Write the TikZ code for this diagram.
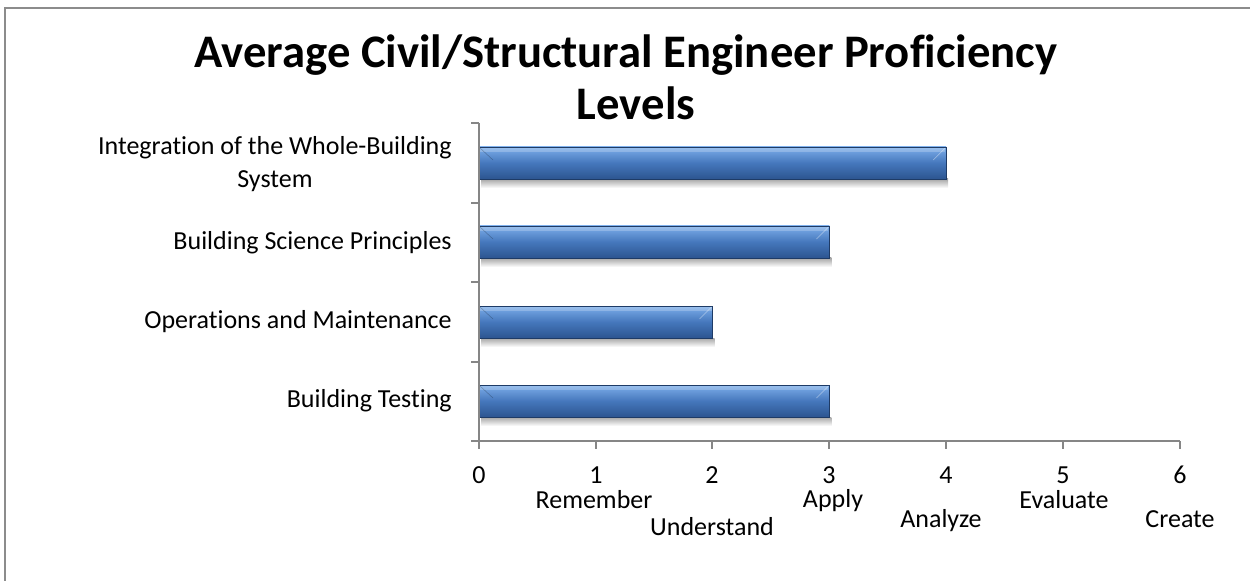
\documentclass[tikz,border=0pt]{standalone}
\usepackage{fontspec}
\setmainfont{Carlito}[Ligatures=NoCommon]
\usetikzlibrary{positioning}

\definecolor{framegray}{HTML}{8C8C8C}
\definecolor{axisgray}{HTML}{868686}
\definecolor{barlight}{HTML}{7DAEEA}
\definecolor{barmid}{HTML}{4577BC}
\definecolor{bardark}{HTML}{2C5590}
\definecolor{baredge}{HTML}{1E3B66}

\tikzset{
  titletext/.style={inner sep=0pt, font=\fontsize{35}{40}\bfseries\selectfont},
  catlabel/.style={anchor=east, inner sep=0pt, align=center, font=\fontsize{19.5}{24.8}\selectfont},
  ticklabel/.style={inner sep=0pt, font=\fontsize{19.5}{24}\selectfont},
  axisline/.style={draw=axisgray, line width=1.1pt},
  barbody/.style={top color=barlight, bottom color=bardark, middle color=barmid, draw=baredge, line width=0.5pt},
  barshadow/.style={top color=black!35, bottom color=white},
}

\begin{document}
\begin{tikzpicture}[x=0.75pt, y=-0.75pt]
  \useasboundingbox (0,0) rectangle (1250,581);

  % outer frame (right and bottom side fall outside the picture)
  \draw[framegray, line width=1.6pt] (5,581) -- (5,8) -- (1250,8);

  % title
  \node[titletext] (title) at (626,55) {Average Civil/Structural Engineer Proficiency};
  \node[titletext] (title2) at (636,103) {Levels};

  % bars
  \foreach \val/\yc in {4/163, 3/242, 2/322, 3/401} {
    \shade[barshadow] (481,\yc+16) rectangle (479+116.8*\val+2,\yc+25);
    \shade[barbody] (479,\yc-16) rectangle (479+116.8*\val,\yc+16);
    \fill[white, opacity=0.22] (480,\yc-15) rectangle (479+116.8*\val-1,\yc-11);
    \draw[black, opacity=0.25, line width=0.4pt] (480,\yc-15) -- (493,\yc-3);
    \draw[white, opacity=0.45, line width=0.4pt] (479+116.8*\val-1,\yc-15) -- (479+116.8*\val-13,\yc-3);
  }

  % axes
  \coordinate (origin) at (479,441);
  \draw[axisline] (479,123) -- (479,449);
  \draw[axisline] (471,441) -- (1180,441);
  \draw[axisline] (471,123) -- (479,123);
  \draw[axisline] (471,203) -- (479,203);
  \draw[axisline] (471,282) -- (479,282);
  \draw[axisline] (471,362) -- (479,362);
  \draw[axisline] (596,441) -- (596,449);
  \draw[axisline] (712,441) -- (712,449);
  \draw[axisline] (829,441) -- (829,449);
  \draw[axisline] (946,441) -- (946,449);
  \draw[axisline] (1063,441) -- (1063,449);
  \draw[axisline] (1180,441) -- (1180,449);

  % category labels
  \node[catlabel] (cat1) at (452,164) {Integration of the Whole-Building\\System};
  \node[catlabel] (cat2) at (452,243) {Building Science Principles};
  \node[catlabel] (cat3) at (452,322) {Operations and Maintenance};
  \node[catlabel] (cat4) at (452,401) {Building Testing};

  % value labels
  \node[ticklabel] (v0) at (479,475) {0};
  \node[ticklabel] (v1) at (596,475) {1};
  \node[ticklabel] (v2) at (712,475) {2};
  \node[ticklabel] (v3) at (829,475) {3};
  \node[ticklabel] (v4) at (946,475) {4};
  \node[ticklabel] (v5) at (1063,475) {5};
  \node[ticklabel] (v6) at (1180,475) {6};

  \node[ticklabel] (remember) at (594,500) {Remember};
  \node[ticklabel] (understand) at (712,527) {Understand};
  \node[ticklabel] (apply) at (833,501) {Apply};
  \node[ticklabel] (analyze) at (941,521) {Analyze};
  \node[ticklabel] (evaluate) at (1064,500) {Evaluate};
  \node[ticklabel] (create) at (1180,519) {Create};
\end{tikzpicture}
\end{document}
